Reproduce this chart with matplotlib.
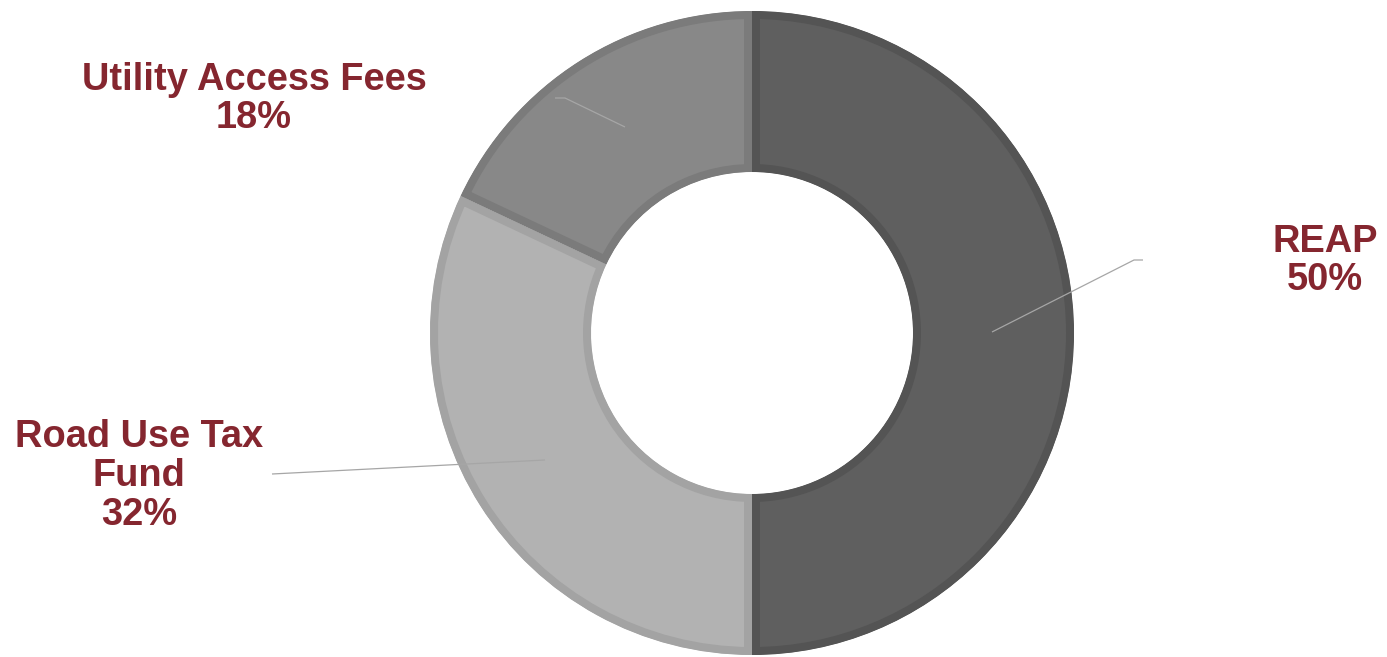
import matplotlib
matplotlib.use("Agg")
import matplotlib.pyplot as plt

labels = ["REAP", "Road Use Tax\nFund", "Utility Access Fees"]
values = [50, 32, 18]
faces = ["#5f5f5f", "#b2b2b2", "#888888"]
edges = ["#545454", "#a3a3a3", "#7b7b7b"]
LABEL_COLOR = "#85262f"

W, H = 1387, 657
fig = plt.figure(figsize=(W / 100, H / 100), dpi=100)
ax = fig.add_axes([0, 0, 1, 1])

CX, CY, R = 752, 324, 322
wedges, _ = ax.pie(values, radius=R, center=(CX, CY), startangle=90, counterclock=False,
                   colors=faces, wedgeprops=dict(width=R * 0.5, linewidth=11.5),
                   frame=True)
ax.set_xlim(0, W)
ax.set_ylim(0, H)
ax.set_aspect("equal")
ax.axis("off")
# inner stroke: double-width edge clipped to the wedge itself
for w, ec in zip(wedges, edges):
    w.set_edgecolor(ec)
    w.set_clip_path(w)
    w.set_clip_on(True)

# leader lines (pixel coords, y up)
leaders = [
    [(992, 325), (1134, 397), (1143, 397)],
    [(545, 197), (272, 183)],
    [(625, 530), (565, 559), (555, 559)],
]
for pts in leaders:
    xs, ys = zip(*pts)
    ax.plot(xs, ys, color="#a6a6a6", lw=0.9, solid_capstyle="butt")

pos = [(1325, 396), (139, 181), (254, 558)]
for lab, v, (x, y) in zip(labels, values, pos):
    ax.text(x, y, f"{lab}\n{v}%", ha="center", va="center", color=LABEL_COLOR,
            fontsize=27.4, fontweight="bold", family="Liberation Sans", linespacing=1.1)

fig.savefig("out.png", dpi=100)
